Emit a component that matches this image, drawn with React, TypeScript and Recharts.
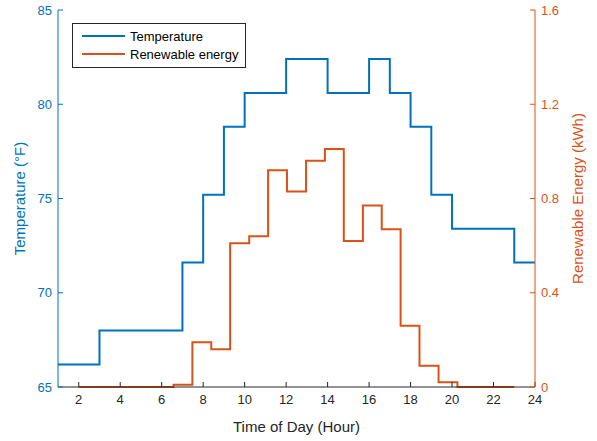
import React from 'react';
import { ComposedChart, Line, XAxis, YAxis } from 'recharts';

// hourly temperature (°F), hours 1..24
const hours = [1, 2, 3, 4, 5, 6, 7, 8, 9, 10, 11, 12, 13, 14, 15, 16, 17, 18, 19, 20, 21, 22, 23, 24];
const temperature = [
  66.2, 66.2, 68, 68, 68, 68, 71.6, 75.2, 78.8, 80.6, 80.6, 82.4,
  82.4, 80.6, 80.6, 82.4, 80.6, 78.8, 75.2, 73.4, 73.4, 73.4, 71.6, 71.6,
];

// renewable energy samples (kWh)
const energyTimes = [
  2, 2.91, 3.83, 4.74, 5.65, 6.57, 7.48, 8.39, 9.3, 10.22, 11.13, 12.04,
  12.96, 13.87, 14.78, 15.7, 16.61, 17.52, 18.43, 19.35, 20.26, 21.17, 22.09, 23,
];
const energy = [
  0, 0, 0, 0, 0, 0.01, 0.19, 0.16, 0.61, 0.64, 0.92, 0.83,
  0.96, 1.01, 0.62, 0.77, 0.67, 0.26, 0.09, 0.02, 0, 0, 0, 0,
];

const xTicks = [2, 4, 6, 8, 10, 12, 14, 16, 18, 20, 22, 24];
const leftTicks = [65, 70, 75, 80, 85];
const rightTicks = [0, 0.4, 0.8, 1.2, 1.6];

const BLUE = '#0072BD';
const ORANGE = '#D95319';
const GRAY = '#262626';
const FONT = '"Liberation Sans", Arial, Helvetica, sans-serif';

const tempData = hours.map((h, i) => ({ x: h, temp: temperature[i] }));
const energyData = energyTimes.map((t, i) => ({ x: t, energy: energy[i] }));

const legendItems = [
  { name: 'Temperature', color: BLUE },
  { name: 'Renewable energy', color: ORANGE },
];

function LegendBox() {
  return (
    <div
      style={{
        position: 'absolute',
        left: 72,
        top: 23,
        border: '1px solid #262626',
        background: '#fff',
        width: 172,
        padding: '3px 0 4px 0',
        fontFamily: FONT,
        fontSize: 13,
        color: '#000',
      }}
    >
      {legendItems.map((it) => (
        <div key={it.name} style={{ display: 'flex', alignItems: 'center', height: 18 }}>
          <div style={{ width: 43, height: 2, background: it.color, marginLeft: 9, marginRight: 5 }} />
          <span>{it.name}</span>
        </div>
      ))}
    </div>
  );
}

export default function App() {
  return (
    <div style={{ position: 'absolute', left: 0, top: 0, width: 597, height: 441, background: '#fff' }}>
      <ComposedChart
        width={597}
        height={441}
        margin={{ top: 10, right: 0, bottom: 0, left: 0 }}
        style={{ fontFamily: FONT }}
      >
        <XAxis
          xAxisId="bottom"
          dataKey="x"
          type="number"
          domain={[1, 24]}
          ticks={xTicks}
          allowDataOverflow
          height={54}
          stroke={GRAY}
          tickSize={-5}
          tickMargin={13}
          tick={{ fill: GRAY, fontSize: 13 }}
          label={{ value: 'Time of Day (Hour)', position: 'insideBottom', offset: 9, fill: GRAY, fontSize: 15 }}
        />
        <XAxis
          xAxisId="top"
          orientation="top"
          dataKey="x"
          type="number"
          domain={[1, 24]}
          ticks={xTicks}
          height={0}
          stroke={GRAY}
          tickSize={-5}
          tickFormatter={() => ''}
        />
        <YAxis
          yAxisId="left"
          type="number"
          domain={[65, 85]}
          ticks={leftTicks}
          width={58}
          stroke={BLUE}
          tickSize={-5}
          tickMargin={11}
          tick={{ fill: BLUE, fontSize: 13 }}
          label={{ value: 'Temperature (°F)', angle: -90, position: 'center', dx: -9, fill: BLUE, fontSize: 15 }}
        />
        <YAxis
          yAxisId="right"
          orientation="right"
          type="number"
          domain={[0, 1.6]}
          ticks={rightTicks}
          width={62}
          stroke={ORANGE}
          tickSize={-5}
          tickMargin={11}
          tick={{ fill: ORANGE, fontSize: 13 }}
          label={{ value: 'Renewable Energy (kWh)', angle: -90, position: 'center', dx: 12, fill: ORANGE, fontSize: 15 }}
        />
        <Line
          xAxisId="bottom"
          yAxisId="left"
          data={tempData}
          dataKey="temp"
          type="stepAfter"
          stroke={BLUE}
          strokeWidth={2}
          dot={false}
          isAnimationActive={false}
        />
        <Line
          xAxisId="bottom"
          yAxisId="right"
          data={energyData}
          dataKey="energy"
          type="stepAfter"
          stroke={ORANGE}
          strokeWidth={2}
          dot={false}
          isAnimationActive={false}
        />
      </ComposedChart>
      <LegendBox />
    </div>
  );
}
